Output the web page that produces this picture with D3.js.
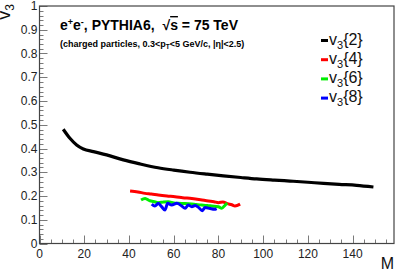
<!DOCTYPE html>
<html>
<head>
<meta charset="utf-8">
<script src="https://cdn.jsdelivr.net/npm/d3@7"></script>
<style>
  html, body { margin: 0; padding: 0; background: #fff; }
  svg { display: block; font-family: "Liberation Sans", Arial, sans-serif; }
</style>
</head>
<body>
<div id="chart"></div>
<script>
const W = 399, H = 271

// v3{2}, v3{4}, v3{6}, v3{8} vs multiplicity M
const v2M = [10.6, 13.6, 16.6, 19.6, 24.1, 30, 37.5, 45, 53, 60, 67.3, 75, 82.2, 90, 97.1, 105, 112, 120, 127, 134, 141.8, 149.3]
const v2V = [0.481, 0.443, 0.415, 0.398, 0.387, 0.373, 0.352, 0.335, 0.319, 0.309, 0.300, 0.292, 0.285, 0.278, 0.272, 0.267, 0.263, 0.258, 0.253, 0.249, 0.245, 0.238]

const v4M = [40.5, 44, 47.2, 50, 53.1, 57, 60.6, 64, 68.1, 72, 75.5, 78, 80, 82, 84, 86, 87.4, 89.7]
const v4V = [0.221, 0.217, 0.211, 0.208, 0.204, 0.2, 0.197, 0.193, 0.189, 0.184, 0.179, 0.176, 0.172, 0.175, 0.168, 0.163, 0.158, 0.166]

const v6M = [45.4, 47.2, 49.4, 51, 53.1, 55.5, 57.6, 60, 62, 65, 68, 70, 72.5, 75, 77, 80, 81.5, 83, 84]
const v6V = [0.183, 0.19, 0.18, 0.177, 0.172, 0.175, 0.176, 0.171, 0.169, 0.168, 0.166, 0.164, 0.162, 0.16, 0.158, 0.155, 0.148, 0.162, 0.17]

const v8M = [50.2, 51.6, 53.1, 54.6, 56.1, 57.3, 59.1, 61.4, 63.6, 65.1, 66.5, 68.1, 69.6, 71.1, 72.8, 74, 76.3, 78.2, 79.2]
const v8V = [0.166, 0.158, 0.169, 0.155, 0.141, 0.169, 0.162, 0.169, 0.158, 0.148, 0.162, 0.155, 0.16, 0.152, 0.138, 0.152, 0.147, 0.144, 0.147]

const seriesNames = ["2", "4", "6", "8"]
const seriesColors = ["#000000", "#ff0000", "#00ee00", "#0000ff"]

const xMajor = [0, 20, 40, 60, 80, 100, 120, 140]
const yMajor = [0, 0.1, 0.2, 0.3, 0.4, 0.5, 0.6, 0.7, 0.8, 0.9, 1]
const yLabels = ["0", "0.1", "0.2", "0.3", "0.4", "0.5", "0.6", "0.7", "0.8", "0.9", "1"]

const pLeft = 39.5, pRight = 394, pTop = 6, pBottom = 243.5

const x = d3.scaleLinear().domain([0, 158.5]).range([pLeft, pRight])
const y = d3.scaleLinear().domain([0, 1]).range([pBottom, pTop])

const svg = d3.select("#chart").append("svg")
    .attr("width", W)
    .attr("height", H)

// minor ticks
const xMinor = d3.range(0, 158.5, 5)
const yMinor = d3.range(0, 1.0001, 0.02)

const ticks = svg.append("g").attr("stroke", "#7a7a7a").attr("stroke-width", 1)
ticks.selectAll(".xt")
    .data(xMinor)
    .join("line")
    .attr("x1", d => Math.round(x(d)) + 0.5)
    .attr("x2", d => Math.round(x(d)) + 0.5)
    .attr("y1", pBottom)
    .attr("y2", d => pBottom - (d % 20 === 0 ? 8 : 4))
ticks.selectAll(".yt")
    .data(yMinor)
    .join("line")
    .attr("y1", d => Math.round(y(d)) + 0.5)
    .attr("y2", d => Math.round(y(d)) + 0.5)
    .attr("x1", pLeft)
    .attr("x2", d => pLeft + (Math.abs(d * 10 - Math.round(d * 10)) < 1e-6 ? 8 : 4))

// frame
svg.append("rect")
    .attr("x", pLeft)
    .attr("y", pTop)
    .attr("width", pRight - pLeft)
    .attr("height", pBottom - pTop)
    .attr("fill", "none")
    .attr("stroke", "#444")
    .attr("stroke-width", 1.2)

// tick labels
svg.append("g")
    .attr("font-size", 12)
    .attr("fill", "#222")
    .attr("text-anchor", "middle")
    .selectAll("text")
    .data(xMajor)
    .join("text")
    .attr("x", d => x(d))
    .attr("y", pBottom + 14)
    .text(d => d)

svg.append("g")
    .attr("font-size", 12)
    .attr("fill", "#222")
    .attr("text-anchor", "end")
    .selectAll("text")
    .data(yMajor)
    .join("text")
    .attr("x", pLeft - 2)
    .attr("y", d => y(d) + 4)
    .text((d, i) => yLabels[i])

// axis titles
const yt = svg.append("text")
    .attr("transform", "translate(10,4) rotate(-90)")
    .attr("text-anchor", "end")
    .attr("font-size", 18)
    .attr("fill", "#111")
yt.append("tspan").text("v")
yt.append("tspan").attr("font-size", 12).attr("dy", 4).text("3")

svg.append("text")
    .attr("x", 394)
    .attr("y", 269)
    .attr("text-anchor", "end")
    .attr("font-size", 16)
    .attr("fill", "#111")
    .text("M")

// curves
const allM = [v2M, v4M, v6M, v8M]
const allV = [v2V, v4V, v6V, v8V]
const line = d3.line()
    .x(d => x(d[0]))
    .y(d => y(d[1]))
    .curve(d3.curveMonotoneX)

svg.append("g")
    .selectAll("path")
    .data(seriesNames.map((n, i) => allM[i].map((m, j) => [m, allV[i][j]])))
    .join("path")
    .attr("d", line)
    .attr("fill", "none")
    .attr("stroke", (d, i) => seriesColors[i])
    .attr("stroke-width", (d, i) => i === 0 ? 3.2 : 3)
    .attr("stroke-linejoin", "round")

// title
const t = svg.append("text")
    .attr("x", 60)
    .attr("y", 30)
    .attr("font-size", 14)
    .attr("font-weight", "bold")
t.append("tspan").text("e")
t.append("tspan").attr("font-size", 9).attr("dy", -5).text("+")
t.append("tspan").attr("dy", 5).text("e")
t.append("tspan").attr("font-size", 9).attr("dy", -5).text("-")
t.append("tspan").attr("dy", 5).text(", PYTHIA6,  \u00A0\u221A")
t.append("tspan").style("text-decoration", "overline").text("s")
t.append("tspan").text(" = 75 TeV")

const st = svg.append("text")
    .attr("x", 60)
    .attr("y", 47)
    .attr("font-size", 9)
    .attr("font-weight", "bold")
st.append("tspan").text("(charged particles, 0.3<p")
st.append("tspan").attr("font-size", 6.5).attr("dy", 2).text("T")
st.append("tspan").attr("dy", -2).text("<5 GeV/c, |\u03B7|<2.5)")

// legend
const lg = svg.append("g")
    .selectAll("g")
    .data(seriesNames)
    .join("g")
    .attr("transform", (d, i) => `translate(321,${40.5 + i * 19.2})`)
lg.append("line")
    .attr("x1", 0)
    .attr("x2", 7)
    .attr("stroke", (d, i) => seriesColors[i])
    .attr("stroke-width", 3)
const lt = lg.append("text")
    .attr("x", 8)
    .attr("y", 4)
    .attr("font-size", 16)
    .attr("fill", "#111")
lt.append("tspan").text("v")
lt.append("tspan").attr("font-size", 11).attr("dy", 4).text("3")
lt.append("tspan").attr("dy", -4).text(d => `{${d}}`)
</script>
</body>
</html>
